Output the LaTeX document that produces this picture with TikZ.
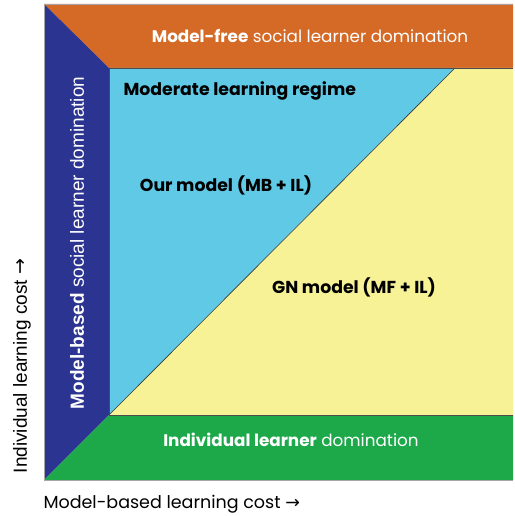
\documentclass[tikz,border=0pt]{standalone}
\usepackage{fontspec}
\setmainfont{Poppins}
\newfontfamily\sidefont{Liberation Sans}
\newfontfamily\arrowfont{DejaVu Sans}
\definecolor{freeorange}{RGB}{213,106,39}
\definecolor{basedblue}{RGB}{43,52,145}
\definecolor{ourcyan}{RGB}{95,201,230}
\definecolor{gnyellow}{RGB}{247,242,150}
\definecolor{ilgreen}{RGB}{29,168,74}
\newcommand{\rarr}{{\arrowfont →}}
\tikzset{
    bandlabel/.style={text=white, font=\fontsize{16.8}{20}\selectfont},
    regionlabel/.style={text=black, font=\fontsize{17.3}{20}\selectfont\bfseries},
    axislabel/.style={text=black, font=\fontsize{17.5}{20}\selectfont}
}
\begin{document}
\begin{tikzpicture}[x=1pt,y=-1pt]
        \useasboundingbox (0,0) rectangle (514,516);
        % corners of the outer square and the inner region
        \coordinate (tl) at (44,4);
        \coordinate (tr) at (513,4);
        \coordinate (bl) at (44,480);
        \coordinate (br) at (513,480);
        \coordinate (itl) at (109,68);
        \coordinate (itr) at (513,68);
        \coordinate (ibl) at (109,415);
        \coordinate (ibr) at (513,415);
        \coordinate (diag) at (455,68);
        % the four bands
        \fill[freeorange] (tl) -- (tr) -- (itr) -- (itl) -- cycle;
        \fill[basedblue] (tl) -- (itl) -- (ibl) -- (bl) -- cycle;
        \fill[ilgreen] (bl) -- (ibl) -- (ibr) -- (br) -- cycle;
        % the two model regions
        \fill[ourcyan] (itl) -- (diag) -- (ibl) -- cycle;
        \fill[gnyellow] (diag) -- (itr) -- (ibr) -- (ibl) -- cycle;
        \draw[black!80, line width=0.6pt] (ibl) -- (diag);
        \draw[black!70, line width=0.8pt] (itr) -- (itl) -- (ibl) -- (ibr);
        \draw[gray!70, line width=0.8pt] (tr) -- (tl) -- (bl) -- (br);
        % labels
        \node[bandlabel] (free) at (310,36) {\textbf{Model-free} social learner domination};
        \node[bandlabel] (indiv) at (291,440) {\textbf{Individual learner} domination};
        \node[bandlabel, rotate=90, font=\sidefont\fontsize{19}{22}\selectfont] (based) at (77,243) {\textbf{Model-based} social learner domination};
        \node[regionlabel, anchor=west] (moderate) at (120,91) {Moderate learning regime};
        \node[regionlabel] (ours) at (226,185) {Our model (MB + IL)};
        \node[regionlabel] (gn) at (354,287) {GN model (MF + IL)};
        \node[axislabel, rotate=90, font=\sidefont\fontsize{19}{22}\selectfont] (ylab) at (22,366) {Individual learning cost \rarr};
        \node[axislabel, anchor=west] (xlab) at (40,504) {Model-based learning cost \rarr};
    \end{tikzpicture}
\end{document}
